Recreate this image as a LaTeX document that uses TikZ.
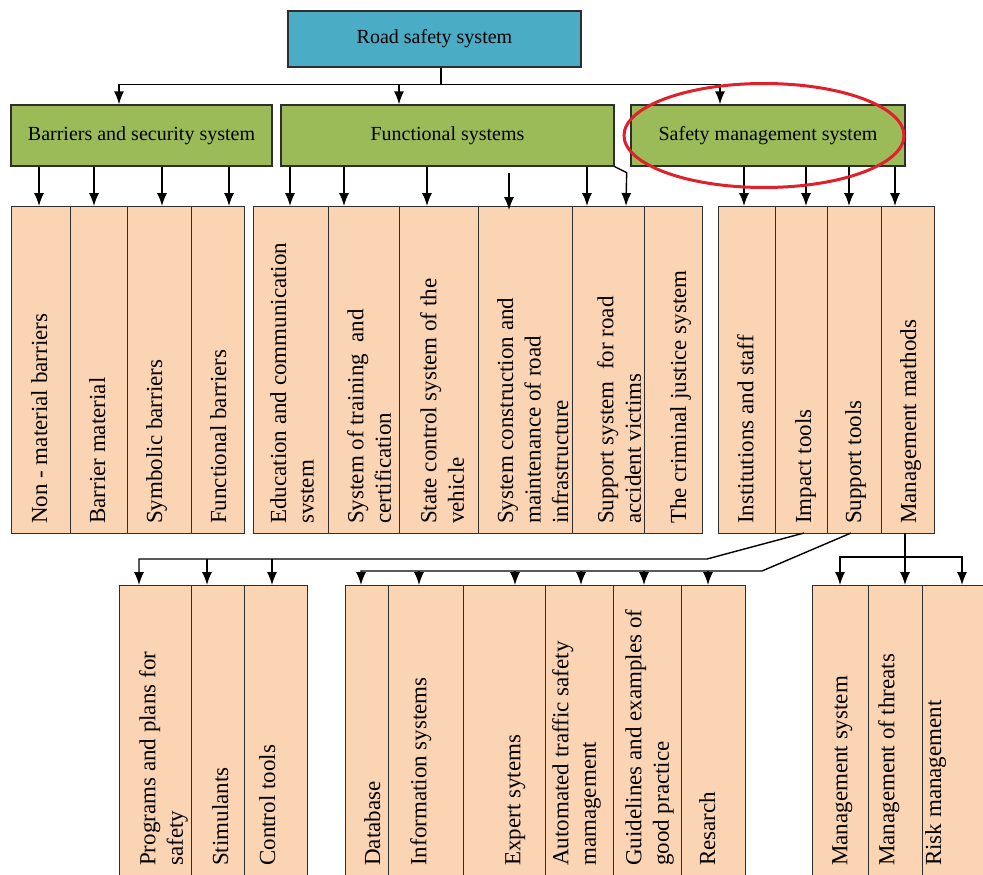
\documentclass[tikz,border=0pt]{standalone}
\usepackage{fontspec}
\setmainfont{Liberation Serif}
\usetikzlibrary{arrows.meta}
\usetikzlibrary{positioning}
\definecolor{topblue}{HTML}{4BACC6}
\definecolor{olivegreen}{HTML}{9BBB59}
\definecolor{peach}{HTML}{FBD4B4}
\definecolor{edge}{HTML}{2E2E2E}
\definecolor{ringred}{HTML}{E0202A}
\tikzset{auto,>={Latex[length=13pt,width=10pt]}, node distance=0pt, font=\fontsize{20}{24}\selectfont}
\tikzstyle{head} = [draw=edge, fill=topblue, rectangle, line width=1.3pt, minimum width=293, minimum height=56, inner sep=0pt]
\tikzstyle{group} = [draw=edge, fill=olivegreen, rectangle, line width=1.3pt, minimum height=61, inner sep=0pt]
\tikzstyle{cell} = [draw=edge, fill=peach, rectangle, line width=1pt, inner sep=0pt, outer sep=0pt]
\tikzstyle{upper} = [cell, minimum height=327]
\tikzstyle{lower} = [cell, minimum height=315]
\tikzstyle{vlabel} = [rotate=90, anchor=north west, align=left, inner sep=0pt, font=\fontsize{23}{27.5}\selectfont]
\tikzstyle{link} = [line width=1.4pt]

\begin{document}
\begin{tikzpicture}[x=1pt,y=-1pt]
		\useasboundingbox (0,0) rectangle (983,875);
		\clip (0,0) rectangle (983,875);

		% top levels
		\node [head] (rss) at (434.5,39) {Road safety system};
		\node [group, minimum width=261] (bss) at (141.5,135.5) {Barriers and security system};
		\node [group, minimum width=333] (fs) at (447.5,135.5) {Functional systems};
		\node [group, minimum width=274] (sms) at (768,135.5) {Safety management system};

		% first row of columns
		\node [upper, minimum width=59] (nmb) at (40.5,369.5) {};
		\node [upper, minimum width=57, right=of nmb] (bmat) {};
		\node [upper, minimum width=64, right=of bmat] (symb) {};
		\node [upper, minimum width=53, right=of symb] (funb) {};
		\node [upper, minimum width=75] (edu) at (290.5,369.5) {};
		\node [upper, minimum width=71, right=of edu] (train) {};
		\node [upper, minimum width=79, right=of train] (state) {};
		\node [upper, minimum width=94, right=of state] (infra) {};
		\node [upper, minimum width=72, right=of infra] (victims) {};
		\node [upper, minimum width=58, right=of victims] (justice) {};
		\node [upper, minimum width=57] (inst) at (746.5,369.5) {};
		\node [upper, minimum width=52, right=of inst] (impact) {};
		\node [upper, minimum width=54, right=of impact] (support) {};
		\node [upper, minimum width=53, right=of support] (methods) {};

		\node [vlabel] (nmb-l) at ([shift={(20,-9)}]nmb.south west) {Non - material barriers};
		\node [vlabel] (bmat-l) at ([shift={(19,-9)}]bmat.south west) {Barrier material};
		\node [vlabel] (symb-l) at ([shift={(19,-9)}]symb.south west) {Symbolic barriers};
		\node [vlabel] (funb-l) at ([shift={(19,-9)}]funb.south west) {Functional barriers};
		\node [vlabel] (edu-l) at ([shift={(17,-9)}]edu.south west) {Education and communication\\svstem};
		\node [vlabel] (train-l) at ([shift={(19,-9)}]train.south west) {System of training~ and\\certification};
		\node [vlabel] (state-l) at ([shift={(21,-9)}]state.south west) {State control system of the\\vehicle};
		\node [vlabel] (infra-l) at ([shift={(19,-9)}]infra.south west) {System construction and\\maintenance of road\\infrastructure};
		\node [vlabel] (victims-l) at ([shift={(25,-9)}]victims.south west) {Support system~ for road\\accident victims};
		\node [vlabel] (justice-l) at ([shift={(26,-9)}]justice.south west) {The criminal justice system};
		\node [vlabel] (inst-l) at ([shift={(19,-9)}]inst.south west) {Institutions and staff};
		\node [vlabel] (impact-l) at ([shift={(20,-9)}]impact.south west) {Impact tools};
		\node [vlabel] (support-l) at ([shift={(18,-9)}]support.south west) {Support tools};
		\node [vlabel] (methods-l) at ([shift={(19,-9)}]methods.south west) {Management mathods};

		% second row of columns
		\node [lower, minimum width=72] (progs) at (155,742.5) {};
		\node [lower, minimum width=53, right=of progs] (stim) {};
		\node [lower, minimum width=63, right=of stim] (ctrl) {};
		\node [lower, minimum width=43] (db) at (366.5,742.5) {};
		\node [lower, minimum width=75, right=of db] (info) {};
		\node [lower, minimum width=82, right=of info] (expert) {};
		\node [lower, minimum width=68, right=of expert] (auto) {};
		\node [lower, minimum width=68, right=of auto] (guide) {};
		\node [lower, minimum width=64, right=of guide] (research) {};
		\node [lower, minimum width=56] (msys) at (840,742.5) {};
		\node [lower, minimum width=54, right=of msys] (threats) {};
		\node [lower, minimum width=80, right=of threats] (risk) {};

		\node [vlabel] (progs-l) at ([shift={(20,-34)}]progs.south west) {Programs and plans for\\safety};
		\node [vlabel] (stim-l) at ([shift={(21,-34)}]stim.south west) {Stimulants};
		\node [vlabel] (ctrl-l) at ([shift={(15,-34)}]ctrl.south west) {Control tools};
		\node [vlabel] (db-l) at ([shift={(19,-34)}]db.south west) {Database};
		\node [vlabel] (info-l) at ([shift={(22,-34)}]info.south west) {Information systems};
		\node [vlabel] (expert-l) at ([shift={(42,-34)}]expert.south west) {Expert sytems};
		\node [vlabel] (auto-l) at ([shift={(7,-34)}]auto.south west) {Automated traffic safety\\mamagement};
		\node [vlabel] (guide-l) at ([shift={(12,-34)}]guide.south west) {Guidelines and examples of\\good practice};
		\node [vlabel] (research-l) at ([shift={(18,-34)}]research.south west) {Resarch};
		\node [vlabel] (msys-l) at ([shift={(20,-34)}]msys.south west) {Management system};
		\node [vlabel] (threats-l) at ([shift={(10,-34)}]threats.south west) {Management of threats};
		\node [vlabel] (risk-l) at ([shift={(3,-34)}]risk.south west) {Risk management};

		% connectors
		\draw [link] ([xshift=6.5]rss.south) -- ++(0,17) coordinate (hub);
		\draw [link,->] (hub) -| ([xshift=-22.5]bss.north);
		\draw [link,->] (hub) -| ([xshift=-48.5]fs.north);
		\draw [link,->] (hub) -| ([xshift=-48]sms.north);

		\foreach \x in {39,94,162,229} \draw [link,->] (\x,0 |- bss.south) -- (\x,0 |- nmb.north);
		\foreach \x in {290,344,427,587} \draw [link,->] (\x,0 |- fs.south) -- (\x,0 |- edu.north);
		\draw [link,->] ([xshift=61.5,yshift=-6]fs.south) -- ([xshift=-16,yshift=-4]infra.north);
		\draw [link,->] (fs.south east) -- ++(12,6) -- (626,0 |- justice.north);
		\foreach \x in {744,806,849,895} \draw [link,->] (\x,0 |- sms.south) -- (\x,0 |- inst.north);

		\draw [link,->] ([xshift=3]impact.south) -- ++(-97,26) coordinate (impbend) -| ([xshift=-16]progs.north);
		\foreach \x in {207,272} \draw [link,->] (\x,0 |- impbend) -- (\x,0 |- progs.north);
		\draw [link,->] ([xshift=-3]support.south) -- ++(-89,38) coordinate (supbend) -| ([xshift=-5.5]db.north);
		\foreach \x in {419,515,581,644,708} \draw [link,->] (\x,0 |- supbend) -- (\x,0 |- db.north);
		\draw [link,->] ([xshift=-2.5]methods.south) -- ([xshift=10]threats.north);
		\draw [link,<->] (msys.north) -- ++(0,-28) -| (risk.north);

		\draw [ringred, line width=3pt] ([xshift=-4]sms.center) ellipse [x radius=140, y radius=52];
	\end{tikzpicture}
\end{document}
